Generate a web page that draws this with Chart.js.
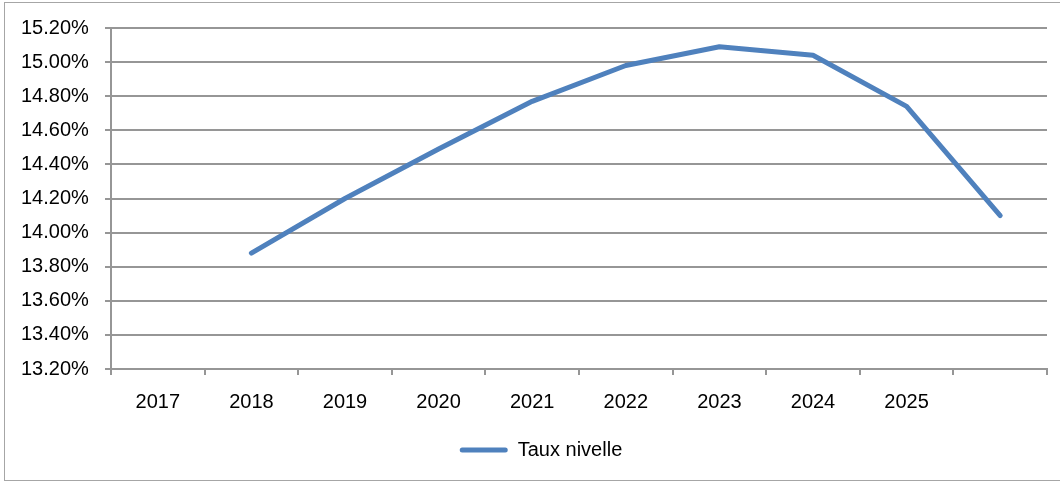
<!DOCTYPE html>
<html>
<head>
<meta charset="utf-8">
<script src="https://cdn.jsdelivr.net/npm/chart.js@4"></script>
<style>
  html, body { margin: 0; padding: 0; background: #fff; overflow: hidden; }
  #frame {
    position: absolute; left: 4px; top: 2px; width: 1070px; height: 479px;
    border: 1.5px solid #a6a6a6; box-sizing: border-box;
  }
  #wrap { position: absolute; left: 0; top: 0; width: 1060px; height: 484px; }
  #tauxChart { display: block; width: 1060px; height: 484px; }
</style>
</head>
<body>
<div id="frame"></div>
<div id="wrap"><canvas id="tauxChart" width="1060" height="484"></canvas></div>
<script>
// years on the category axis (last category has no label)
var years = ["2017", "2018", "2019", "2020", "2021", "2022", "2023", "2024", "2025", ""];
// taux nivelle, in %
var tauxNivelle = [null, 13.88, 14.20, 14.49, 14.77, 14.98, 15.09, 15.04, 14.74, 14.10];
var seriesName = "Taux nivelle";
var yMin = 13.2;
var yMax = 15.2;
var yStep = 0.2;

var lineBlue = "#4F81BD";
var gridGray = "#969696";
var font = { family: "'Liberation Sans', Arial, sans-serif", size: 20 };

var ctx = document.getElementById("tauxChart").getContext("2d");
var chart = new Chart(ctx, {
  type: "line",
  data: {
    labels: years,
    datasets: [
      {
        label: seriesName,
        data: tauxNivelle,
        borderColor: lineBlue,
        backgroundColor: lineBlue,
        borderWidth: 5,
        borderCapStyle: "round",
        borderJoinStyle: "round",
        pointRadius: 0,
        tension: 0,
        fill: false,
      },
    ],
  },
  options: {
    responsive: false,
    animation: false,
    devicePixelRatio: 1,
    layout: { padding: { left: 35, right: 13, top: 28, bottom: 14 } },
    plugins: {
      tooltip: { enabled: false },
      legend: {
        position: "bottom",
        labels: {
          color: "#000",
          font: font,
          boxWidth: 48,
          boxHeight: 5,
          padding: 10,
          useBorderRadius: true,
          generateLabels: function () {
            return [{
              text: seriesName,
              fillStyle: lineBlue,
              strokeStyle: lineBlue,
              lineWidth: 0,
              borderRadius: 2.5,
              datasetIndex: 0,
            }];
          },
        },
      },
    },
    scales: {
      x: {
        offset: true,
        grid: {
          offset: true,
          drawOnChartArea: false,
          drawTicks: true,
          tickLength: 6,
          color: gridGray,
          lineWidth: 2,
        },
        border: { display: true, color: gridGray, width: 2 },
        ticks: { color: "#000", font: font, padding: 15, maxRotation: 0, autoSkip: false },
        afterFit: function (scale) { scale.height = 61; },
      },
      y: {
        min: yMin,
        max: yMax,
        grid: { color: gridGray, lineWidth: 2, tickLength: 6 },
        border: { display: true, color: gridGray, width: 2 },
        ticks: {
          stepSize: yStep,
          color: "#000",
          font: font,
          // mirrored labels are not clipped to the axis box; pull them back left of the axis
          mirror: true,
          padding: -90,
          callback: function (v) { return v.toFixed(2) + "%"; },
        },
        afterFit: function (scale) { scale.width = 76; },
      },
    },
  },
});
</script>
</body>
</html>
